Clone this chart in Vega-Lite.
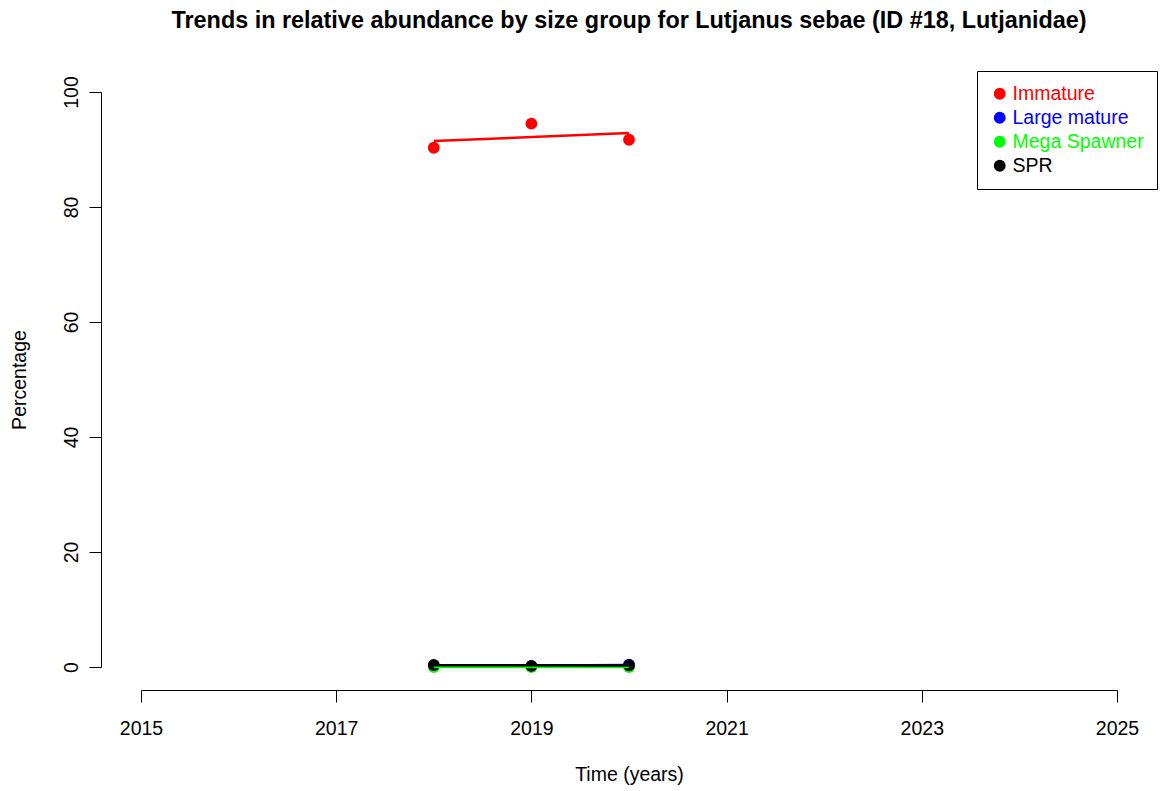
{
  "$schema": "https://vega.github.io/schema/vega-lite/v6.json",
  "autosize": "none",
  "width": 976,
  "height": 575,
  "padding": {"left": 141, "top": 92, "right": 44, "bottom": 124},
  "background": "white",
  "config": {
    "view": {"stroke": null},
    "font": "Liberation Sans",
    "axis": {
      "grid": false,
      "domainColor": "black",
      "tickColor": "black",
      "labelColor": "black",
      "titleColor": "black",
      "labelFont": "Liberation Sans",
      "titleFont": "Liberation Sans",
      "labelFontSize": 19.5,
      "titleFontSize": 19.5,
      "titleFontWeight": "normal",
      "tickSize": 12,
      "domainWidth": 1,
      "tickWidth": 1,
      "labelFlush": false
    }
  },
  "title": {
    "text": "Trends in relative abundance by size group for Lutjanus sebae (ID #18, Lutjanidae)",
    "font": "Liberation Sans",
    "fontSize": 23.4,
    "fontWeight": "bold",
    "color": "black",
    "anchor": "middle",
    "offset": 37,
    "dx": 0
  },
  "data": {
    "values": [
      {"year": 2018, "value": 90.3, "series": "Immature"},
      {"year": 2019, "value": 94.5, "series": "Immature"},
      {"year": 2020, "value": 91.7, "series": "Immature"},
      {"year": 2018, "value": 0.2, "series": "Large mature"},
      {"year": 2019, "value": 0.15, "series": "Large mature"},
      {"year": 2020, "value": 0.4, "series": "Large mature"},
      {"year": 2018, "value": 0.0, "series": "Mega Spawner"},
      {"year": 2019, "value": 0.0, "series": "Mega Spawner"},
      {"year": 2020, "value": 0.0, "series": "Mega Spawner"},
      {"year": 2018, "value": 0.35, "series": "SPR"},
      {"year": 2019, "value": 0.2, "series": "SPR"},
      {"year": 2020, "value": 0.3, "series": "SPR"}
    ]
  },
  "encoding": {
    "x": {
      "field": "year",
      "type": "quantitative",
      "scale": {"domain": [2015, 2025], "nice": false, "zero": false},
      "axis": {
        "title": "Time (years)",
        "values": [2015, 2017, 2019, 2021, 2023, 2025],
        "format": "d",
        "offset": 23,
        "labelPadding": 17,
        "titlePadding": 28
      }
    },
    "y": {
      "field": "value",
      "type": "quantitative",
      "scale": {"domain": [0, 100], "nice": false},
      "axis": {
        "title": "Percentage",
        "values": [0, 20, 40, 60, 80, 100],
        "offset": 40,
        "labelAngle": 270,
        "labelAlign": "center",
        "labelBaseline": "bottom",
        "labelPadding": 8,
        "titlePadding": 32
      }
    },
    "color": {
      "field": "series",
      "type": "nominal",
      "scale": {
        "domain": ["Immature", "Large mature", "Mega Spawner", "SPR"],
        "range": ["#FF0000", "#0000FF", "#00FF00", "#000000"]
      },
      "legend": {
        "title": null,
        "orient": "none",
        "legendX": 836,
        "legendY": -21,
        "strokeColor": "black",
        "fillColor": "white",
        "padding": 13,
        "symbolType": "circle",
        "symbolSize": 140,
        "symbolStrokeWidth": 0,
        "labelFont": "Liberation Sans",
        "labelFontSize": 19.5,
        "labelOffset": 3,
        "rowPadding": 3,
        "encode": {
          "labels": {"update": {"fill": {"scale": "color", "field": "value"}}}
        }
      }
    }
  },
  "layer": [
    {
      "mark": {"type": "point", "filled": true, "size": 140, "opacity": 1}
    },
    {
      "transform": [
        {"regression": "value", "on": "year", "groupby": ["series"]}
      ],
      "mark": {"type": "line", "strokeWidth": 2.5}
    }
  ]
}
